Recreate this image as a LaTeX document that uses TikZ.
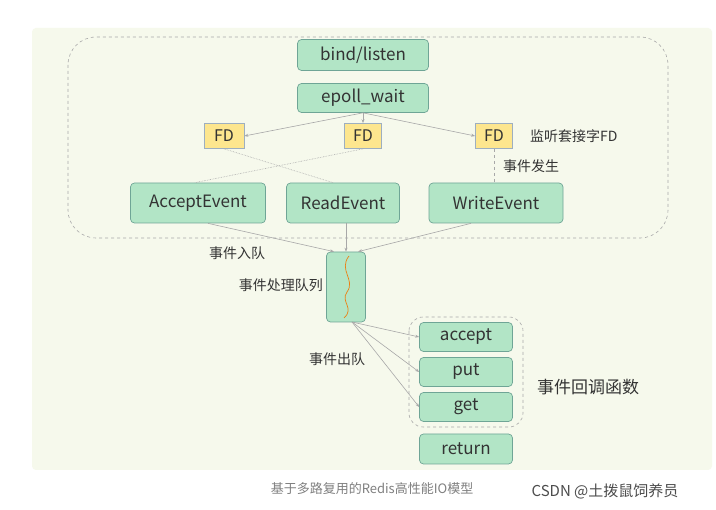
\documentclass[tikz,border=0pt]{standalone}
\usepackage{fontspec}
\setmainfont{Noto Sans CJK SC}
\usetikzlibrary{arrows.meta,decorations.pathmorphing}
\definecolor{bgp}{HTML}{F6F9EC}
\definecolor{gfill}{HTML}{B2E5C6}
\definecolor{gline}{HTML}{6FA596}
\definecolor{yfill}{HTML}{FDE68E}
\definecolor{yline}{HTML}{9DAFC0}
\definecolor{txt}{HTML}{333333}
\definecolor{conn}{HTML}{A8A8A8}
\tikzset{
 g/.style={draw=gline,fill=gfill,rounded corners=4pt,text=txt,font=\fontsize{17}{19}\selectfont,inner sep=0pt,line width=0.7pt},
 fd/.style={draw=yline,fill=yfill,text=txt,font=\fontsize{16}{18}\selectfont,inner sep=0pt,minimum width=37pt,minimum height=25pt,line width=0.7pt},
 lab/.style={text=txt,font=\fontsize{14}{16}\selectfont,inner sep=0pt},
 ar/.style={draw=conn,line width=0.6pt,-{Stealth[length=4pt,width=3pt]}},
 dl/.style={draw=conn,line width=0.6pt,densely dotted},
}
\begin{document}
\begin{tikzpicture}[x=1pt,y=-1pt]
\useasboundingbox (0,0) rectangle (716,510);
\fill[white] (0,0) rectangle (716,510);
\fill[bgp,rounded corners=4pt] (32,28) rectangle (712,470);
\draw[conn,dashed,rounded corners=28pt,line width=0.6pt] (68,37) rectangle (668,238);
\node[g,minimum width=131pt,minimum height=31pt] (bind) at (363,55) {bind/listen};
\node[g,minimum width=131pt,minimum height=29pt] (ep) at (363,98) {epoll\_wait};
\node[fd,minimum width=40pt] (f1) at (224,136) {FD};
\node[fd] (f2) at (363,136) {FD};
\node[fd] (f3) at (494,136) {FD};
\node[lab,anchor=west] (l1) at (530,136) {监听套接字FD};
\node[g,minimum width=135pt,minimum height=40pt] (ae) at (198,203) {AcceptEvent};
\node[g,minimum width=113pt,minimum height=40pt] (re) at (343,203) {ReadEvent};
\node[g,minimum width=134pt,minimum height=40pt] (we) at (496,203) {WriteEvent};
\node[lab,anchor=west] (l2) at (503,166) {事件发生};
\draw[ar] (ep.south) -- (f1.east);
\draw[ar] (ep.south) -- (f2.north);
\draw[ar] (ep.south) -- (f3.west);
\draw[conn,dashed,line width=0.6pt] (f3.south) -- (f3.south |- we.north);
\draw[dl] (f1.south) -- ([xshift=-10pt]re.north);
\draw[dl] (f2.south) -- ([xshift=-3pt]ae.north);
\node[g,minimum width=39pt,minimum height=70pt] (q) at (346,287) {};
\draw[orange!70!brown,line width=0.7pt] (349,256) .. controls (338,270) and (356,280) .. (347,292) .. controls (340,302) and (355,308) .. (344,318);
\draw[ar] ([xshift=10pt]ae.south) -- ([xshift=-12pt]q.north);
\draw[ar] (re.south -| q.north) -- (q.north);
\draw[ar] ([xshift=-25pt]we.south) -- ([xshift=12pt]q.north);
\node[lab] (l3) at (237,253) {事件入队};
\node[lab,anchor=east] (l4) at (323,285) {事件处理队列};
\draw[conn,dashed,rounded corners=14pt,line width=0.6pt] (409,317) rectangle (523,427);
\node[g,minimum width=93pt,minimum height=29pt] (acc) at (466,337) {accept};
\node[g,minimum width=93pt,minimum height=29pt] (put) at (466,372) {put};
\node[g,minimum width=93pt,minimum height=29pt] (get) at (466,407) {get};
\node[g,minimum width=93pt,minimum height=30pt] (ret) at (466,449) {return};
\coordinate (qb) at (352,322);
\draw[ar] (qb) -- (acc.west);
\draw[ar] (qb) -- (put.west);
\draw[ar] (qb) -- (get.west);
\node[lab] (l5) at (337,359) {事件出队};
\node[text=txt,font=\fontsize{17}{19}\selectfont,inner sep=0pt] (l6) at (588,387) {事件回调函数};
\node[text=gray,font=\fontsize{13}{15}\selectfont,inner sep=0pt] (c1) at (372,489) {基于多路复用的Redis高性能IO模型};
\node[text=black!70,font=\fontsize{15}{17}\selectfont,inner sep=0pt] (c2) at (605,491) {CSDN @土拨鼠饲养员};
\end{tikzpicture}
\end{document}
